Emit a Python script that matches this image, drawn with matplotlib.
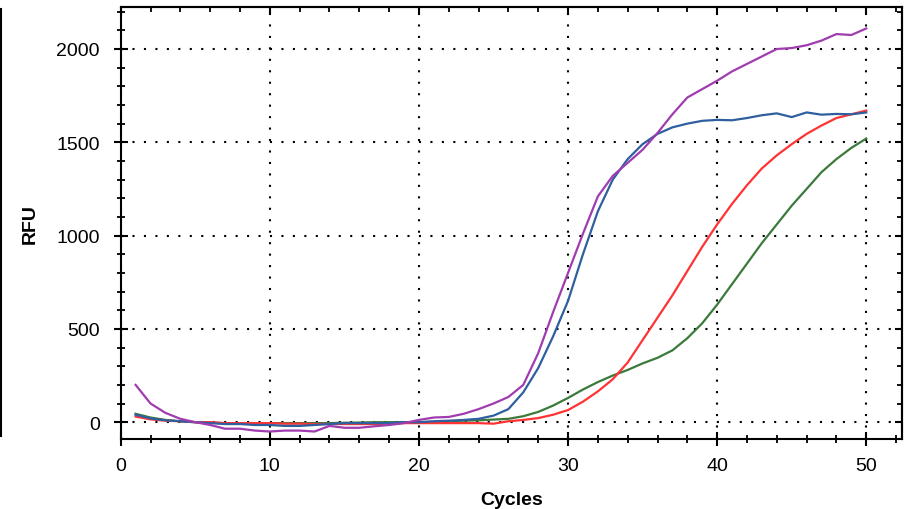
import matplotlib
matplotlib.use('Agg')
import matplotlib.pyplot as plt
from matplotlib.lines import Line2D
from matplotlib.ticker import MultipleLocator

plt.rcParams['font.family'] = ['Liberation Sans', 'DejaVu Sans']

cycles = list(range(1, 51))

purple = [200, 100, 50, 18, 0, -15, -35, -35, -45, -50,
          -45, -45, -50, -20, -30, -30, -22, -15, -5, 12,
          25, 28, 45, 70, 100, 135, 200, 370, 590, 800,
          1010, 1210, 1320, 1390, 1460, 1550, 1650, 1740, 1785, 1830,
          1880, 1920, 1960, 2000, 2005, 2020, 2045, 2080, 2075, 2110]

blue = [40, 20, 10, 5, 0, -5, -10, -10, -15, -15,
        -20, -20, -15, -10, -5, -5, -5, -5, 0, 0,
        5, 8, 12, 18, 35, 70, 160, 290, 460, 650,
        900, 1130, 1300, 1410, 1490, 1545, 1580, 1600, 1615, 1620,
        1618, 1630, 1645, 1655, 1635, 1660, 1648, 1652, 1650, 1660]

red = [30, 15, 8, 5, 0, 0, -5, -5, -5, -5,
       -8, -8, -10, -10, -10, -10, -10, -8, -5, -5,
       -5, -5, -5, -5, -8, 5, 12, 22, 40, 65,
       110, 165, 230, 320, 440, 560, 680, 810, 940, 1060,
       1170, 1270, 1360, 1430, 1490, 1545, 1590, 1630, 1650, 1670]

green = [45, 25, 12, 5, 0, -3, -5, -5, -5, -5,
         -5, -5, -5, -5, -3, -2, 0, 0, 0, 0,
         2, 5, 8, 10, 14, 18, 32, 55, 89, 130,
         175, 215, 250, 280, 315, 345, 385, 450, 530, 630,
         740, 850, 960, 1060, 1160, 1250, 1340, 1410, 1470, 1520]

series = [(green, '#3b7a3b'), (red, '#ff3333'), (blue, '#2f5f9f'), (purple, '#a03cb0')]

fig = plt.figure(figsize=(9.13, 5.10), dpi=100)
ax = fig.add_axes([0.1322, 0.1373, 0.988 - 0.1322, 0.9843 - 0.1373])

for values, color in series:
    ax.plot(cycles, values, color=color, lw=1.6)

ax.set_xlim(0, 52.4)
ax.set_ylim(-90, 2225)
ax.xaxis.set_major_locator(MultipleLocator(10))
ax.xaxis.set_minor_locator(MultipleLocator(2))
ax.yaxis.set_major_locator(MultipleLocator(500))
ax.yaxis.set_minor_locator(MultipleLocator(100))

ax.grid(True, which='major', color='black', lw=1.5, ls=(0, (1, 4.5)))

for s in ax.spines.values():
    s.set_linewidth(1.5)

ax.tick_params(which='major', direction='inout', length=10, width=1.5,
               labelsize=14, top=False, right=False)
ax.tick_params(which='minor', direction='inout', length=5.5, width=1.3,
               top=False, right=False)
ax.tick_params(axis='y', which='major', pad=10)
ax.tick_params(axis='x', which='major', pad=8)

# inward ticks on the top and right edges
top = ax.secondary_xaxis('top')
top.xaxis.set_major_locator(MultipleLocator(10))
top.xaxis.set_minor_locator(MultipleLocator(2))
top.tick_params(which='major', direction='in', length=5, width=1.5, labeltop=False)
top.tick_params(which='minor', direction='in', length=3.5, width=1.3)
top.spines['top'].set_linewidth(1.5)
right = ax.secondary_yaxis('right')
right.yaxis.set_major_locator(MultipleLocator(500))
right.yaxis.set_minor_locator(MultipleLocator(100))
right.tick_params(which='major', direction='in', length=5, width=1.5, labelright=False)
right.tick_params(which='minor', direction='in', length=3.5, width=1.3)
right.spines['right'].set_linewidth(1.5)

ax.set_xlabel('Cycles', fontsize=14, fontweight='bold', labelpad=12)
ax.set_ylabel('RFU', fontsize=14, fontweight='bold', labelpad=13)

fig.add_artist(Line2D([0.0015, 0.0015], [1 - 10 / 510, 1 - 437 / 510],
                      transform=fig.transFigure, color='black', lw=1.5))

fig.savefig('out.png', dpi=100)
